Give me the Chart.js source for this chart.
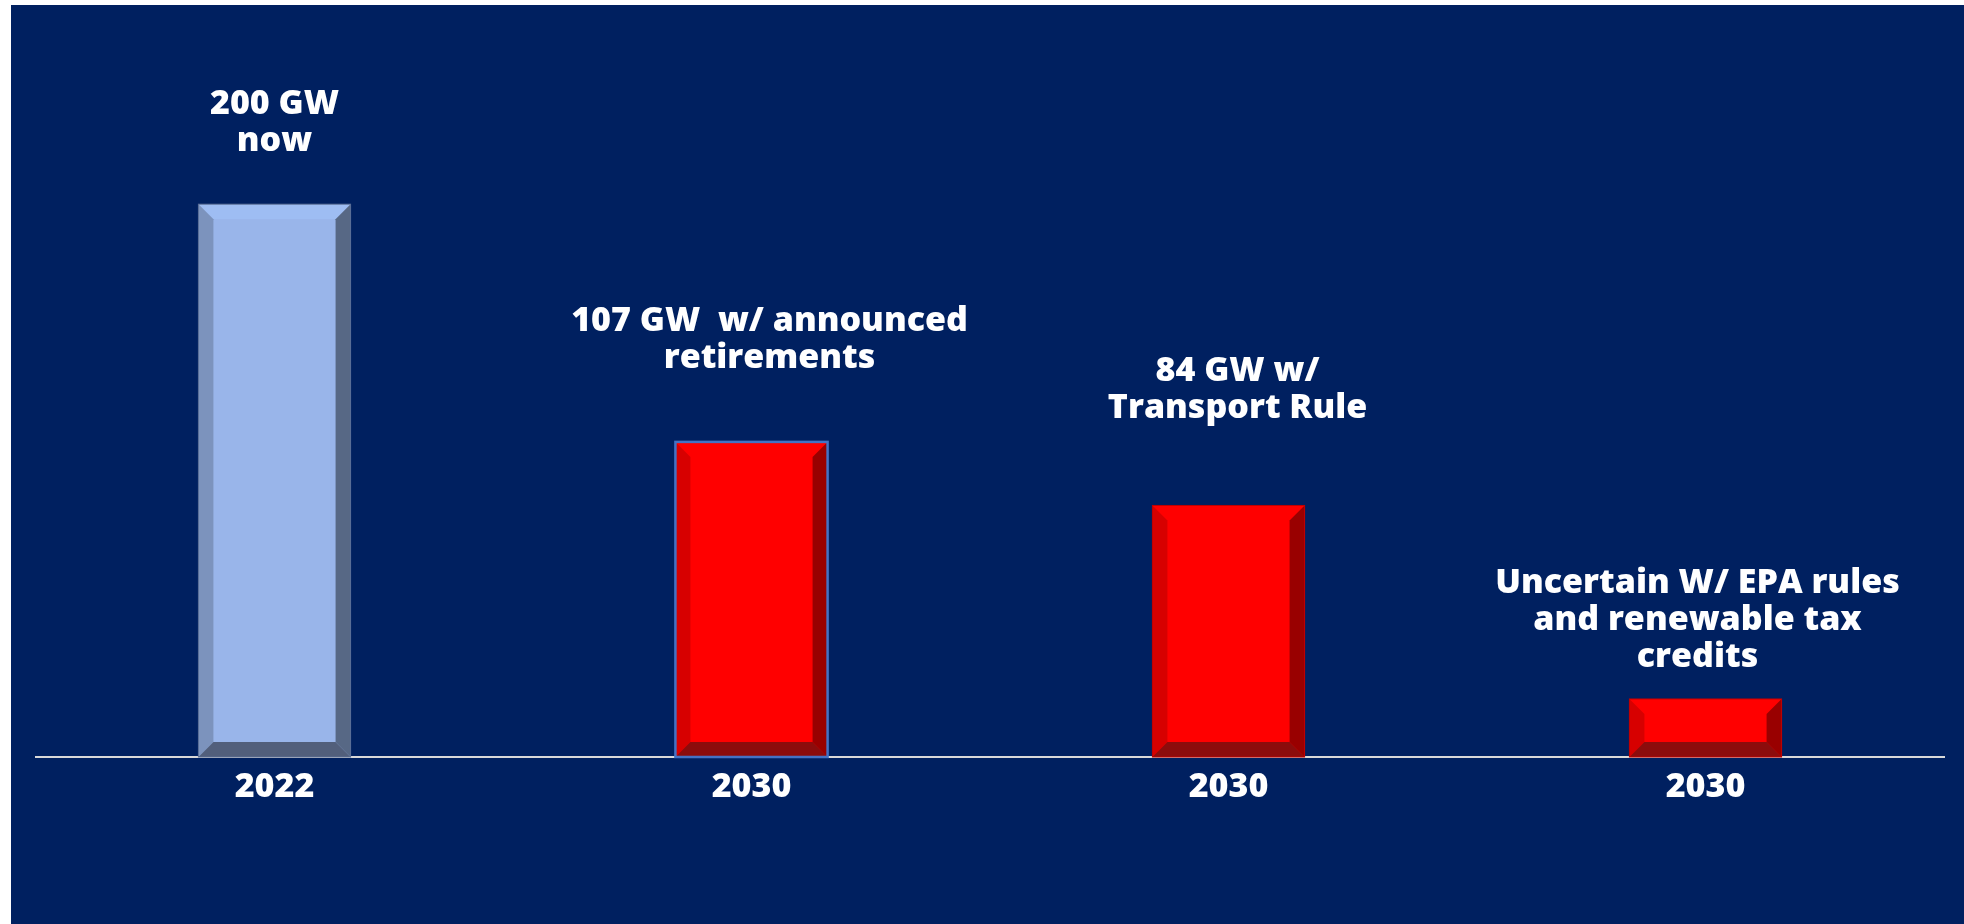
<!DOCTYPE html>
<html>
<head>
<meta charset="utf-8">
<script src="https://cdn.jsdelivr.net/npm/chart.js@4/dist/chart.umd.min.js"></script>
<style>
  html, body { margin: 0; padding: 0; background: #fff; }
  #wrap { position: absolute; left: 0; top: 0; width: 1964px; height: 924px; }
</style>
</head>
<body>
<div id="wrap"><canvas id="coalChart" width="1964" height="924"></canvas></div>
<script>
// categories + values (bar heights)
const years = ['2022', '2030', '2030', '2030'];
const capacityGW = [200, 114, 91, 21];
const noteLines = [
    ['200 GW', 'now'],
    ['107 GW  w/ announced', 'retirements'],
    ['84 GW w/', 'Transport Rule'],
    ['Uncertain W/ EPA rules', 'and renewable tax', 'credits']
];

// styles, kept apart from the data
const faceColors = ['#99b5ea', '#ff0000', '#ff0000', '#ff0000'];
const bevelColors = [
    { top: '#9ebdf3', left: '#7c93bd', right: '#576885', bottom: '#525f7b' },
    { top: '#ff0000', left: '#d70000', right: '#990000', bottom: '#8c0c0c' },
    { top: '#ff0000', left: '#d70000', right: '#990000', bottom: '#8c0c0c' },
    { top: '#ff0000', left: '#d70000', right: '#990000', bottom: '#8c0c0c' }
];
const outlineColors = ['#5a6e95', '#4472c4', '#c00000', '#c00000'];
const noteShift = [0, 18, 9, -8];   // horizontal nudge of each note
const noteRise = [90, 111, 124, 106]; // first baseline above bar top

const FONT = '"Open Sans", Lato, sans-serif';

const backdrop = {
    id: 'backdrop',
    beforeDraw(chart) {
        const c = chart.ctx;
        c.save();
        c.fillStyle = '#ffffff';
        c.fillRect(0, 0, chart.width, chart.height);
        c.fillStyle = '#002060';
        c.fillRect(11, 5, chart.width - 11, chart.height - 5);
        c.restore();
    }
};

// bevelled look on each bar + the text notes above them
const bevels = {
    id: 'bevels',
    afterDatasetsDraw(chart) {
        const c = chart.ctx;
        const bars = chart.getDatasetMeta(0).data;
        bars.forEach((bar, i) => {
            const p = bar.getProps(['x', 'y', 'base', 'width'], true);
            const l = p.x - p.width / 2, r = p.x + p.width / 2;
            const t = p.y, b = p.base;
            const k = Math.min(15, (b - t) / 2);
            const col = bevelColors[i];
            const poly = (pts, fill) => {
                c.beginPath();
                c.moveTo(pts[0][0], pts[0][1]);
                for (let j = 1; j < pts.length; j++) c.lineTo(pts[j][0], pts[j][1]);
                c.closePath();
                c.fillStyle = fill;
                c.fill();
            };
            c.save();
            poly([[l, t], [r, t], [r - k, t + k], [l + k, t + k]], col.top);
            poly([[l, t], [l + k, t + k], [l + k, b - k], [l, b]], col.left);
            poly([[r, t], [r, b], [r - k, b - k], [r - k, t + k]], col.right);
            poly([[l, b], [l + k, b - k], [r - k, b - k], [r, b]], col.bottom);
            c.strokeStyle = outlineColors[i];
            c.lineWidth = i === 1 ? 2.5 : 1;
            c.strokeRect(l, t, r - l, b - t);

            // note text
            c.fillStyle = '#ffffff';
            c.font = '800 34px ' + FONT;
            c.textAlign = 'center';
            c.textBaseline = 'alphabetic';
            noteLines[i].forEach((line, n) => {
                c.fillText(line, p.x + noteShift[i], t - noteRise[i] + n * 37);
            });
            c.restore();
        });
    }
};

new Chart(document.getElementById('coalChart').getContext('2d'), {
    type: 'bar',
    data: {
        labels: years,
        datasets: [{
            data: capacityGW,
            backgroundColor: faceColors,
            borderWidth: 0,
            barPercentage: 0.319,
            categoryPercentage: 1.0
        }]
    },
    options: {
        responsive: false,
        animation: false,
        layout: { padding: { left: 36, right: 20, top: 66, bottom: 67 } },
        plugins: {
            legend: { display: false },
            tooltip: { enabled: false }
        },
        scales: {
            x: {
                grid: { display: false, drawTicks: false },
                border: { display: true, color: '#d9d9d9', width: 2 },
                ticks: {
                    color: '#ffffff',
                    padding: 10,
                    font: { size: 34, weight: '800', family: FONT }
                },
                afterFit(scale) { scale.height = 100; }
            },
            y: {
                display: false,
                min: 0,
                max: 250
            }
        }
    },
    plugins: [backdrop, bevels]
});
</script>
</body>
</html>
